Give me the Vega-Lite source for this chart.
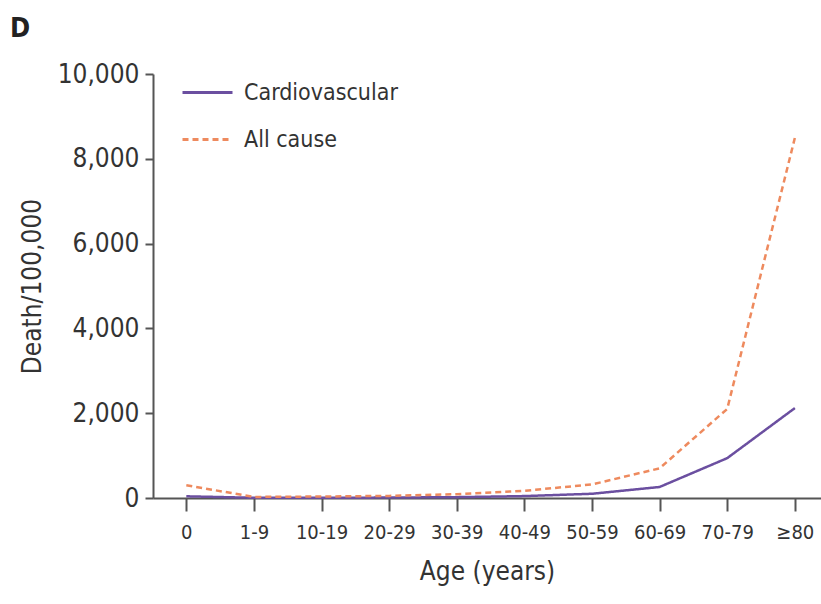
{
  "$schema": "https://vega.github.io/schema/vega-lite/v6.json",
  "width": 668,
  "height": 424,
  "autosize": "none",
  "padding": {"left": 153, "top": 74, "right": 0, "bottom": 106},
  "background": "white",
  "title": {
    "text": "D",
    "anchor": "start",
    "frame": "group",
    "dx": -143,
    "dy": -2,
    "offset": 16,
    "fontSize": 27,
    "fontWeight": "bold",
    "font": "DejaVu Sans Condensed, Liberation Sans, sans-serif",
    "color": "#222"
  },
  "config": {
    "view": {"stroke": null},
    "font": "DejaVu Sans Condensed, Liberation Sans, sans-serif",
    "axis": {"grid": false, "domainColor": "#555", "tickColor": "#555", "labelColor": "#333", "titleColor": "#333", "labelFont": "DejaVu Sans Condensed, Liberation Sans, sans-serif", "titleFont": "DejaVu Sans Condensed, Liberation Sans, sans-serif", "titleFontWeight": "normal", "domainWidth": 2, "tickWidth": 2},
    "legend": {"labelFont": "DejaVu Sans Condensed, Liberation Sans, sans-serif"}
  },
  "data": {
    "values": [
      {"age": "0", "series": "Cardiovascular", "value": 40},
      {"age": "1-9", "series": "Cardiovascular", "value": 5},
      {"age": "10-19", "series": "Cardiovascular", "value": 5},
      {"age": "20-29", "series": "Cardiovascular", "value": 10},
      {"age": "30-39", "series": "Cardiovascular", "value": 20},
      {"age": "40-49", "series": "Cardiovascular", "value": 45},
      {"age": "50-59", "series": "Cardiovascular", "value": 100},
      {"age": "60-69", "series": "Cardiovascular", "value": 260},
      {"age": "70-79", "series": "Cardiovascular", "value": 940},
      {"age": "≥80", "series": "Cardiovascular", "value": 2120},
      {"age": "0", "series": "All cause", "value": 300},
      {"age": "1-9", "series": "All cause", "value": 25},
      {"age": "10-19", "series": "All cause", "value": 35},
      {"age": "20-29", "series": "All cause", "value": 50},
      {"age": "30-39", "series": "All cause", "value": 90},
      {"age": "40-49", "series": "All cause", "value": 170},
      {"age": "50-59", "series": "All cause", "value": 320},
      {"age": "60-69", "series": "All cause", "value": 700},
      {"age": "70-79", "series": "All cause", "value": 2100},
      {"age": "≥80", "series": "All cause", "value": 8490}
    ]
  },
  "mark": {"type": "line", "strokeWidth": 2.5},
  "encoding": {
    "x": {
      "field": "age",
      "type": "ordinal",
      "sort": null,
      "scale": {"type": "point", "padding": 0.44, "align": 0.56},
      "axis": {"title": "Age (years)", "labelAngle": 0, "labelFontSize": 20, "titleFontSize": 26, "tickSize": 13, "labelPadding": 11, "titlePadding": 16}
    },
    "y": {
      "field": "value",
      "type": "quantitative",
      "scale": {"domain": [0, 10000], "nice": false},
      "axis": {"title": "Death/100,000", "values": [0, 2000, 4000, 6000, 8000, 10000], "format": ",d", "labelFontSize": 26, "titleFontSize": 26, "tickSize": 8, "labelPadding": 6, "titlePadding": 12}
    },
    "color": {
      "field": "series",
      "type": "nominal",
      "scale": {"domain": ["Cardiovascular", "All cause"], "range": ["#6b4fa0", "#ee8a5e"]},
      "legend": {"title": null, "orient": "none", "legendX": 28, "legendY": -8, "symbolType": "stroke", "symbolSize": 2500, "symbolStrokeWidth": 3, "labelFontSize": 23, "labelColor": "#333", "rowPadding": 8, "labelOffset": 10}
    },
    "strokeDash": {
      "field": "series",
      "type": "nominal",
      "scale": {"domain": ["Cardiovascular", "All cause"], "range": [[1, 0], [6, 4]]},
      "legend": {"title": null, "orient": "none", "legendX": 28, "legendY": -8, "symbolType": "stroke", "symbolSize": 2500, "symbolStrokeWidth": 3, "labelFontSize": 23, "labelColor": "#333", "rowPadding": 8, "labelOffset": 10}
    }
  }
}
